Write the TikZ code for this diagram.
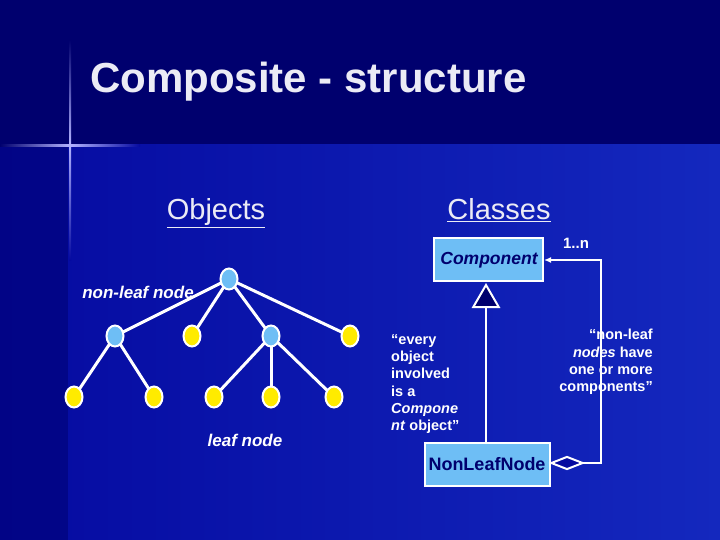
\documentclass[tikz,border=0pt]{standalone}
\usepackage{fontspec}
\setmainfont{Liberation Sans}
\usetikzlibrary{arrows.meta,shapes.geometric,backgrounds}
\pgfdeclarelayer{bglines}
\pgfsetlayers{background,bglines,main}
\definecolor{navy}{RGB}{0,0,110}
\definecolor{bgblue}{RGB}{5,10,160}
\definecolor{bgright}{RGB}{20,40,190}
\definecolor{boxblue}{RGB}{110,190,245}
\definecolor{nodeblue}{RGB}{110,190,245}
\definecolor{nodeyellow}{RGB}{255,235,0}
\definecolor{titlecol}{RGB}{235,235,245}
\tikzset{
  obj/.style={ellipse,draw=white,line width=2pt,minimum width=17pt,minimum height=21pt,inner sep=0pt},
  nl/.style={obj,fill=nodeblue},
  lf/.style={obj,fill=nodeyellow},
  edge/.style={white,line width=3pt},
  cls/.style={draw=white,line width=2pt,fill=boxblue,inner sep=0pt},
  lbl/.style={text=white},
}
\begin{document}
\begin{tikzpicture}[x=1pt,y=-1pt]
\useasboundingbox (0,0) rectangle (720,540);
\begin{pgfonlayer}{background}
\fill[navy] (0,0) rectangle (720,145);
\shade[left color=bgblue,right color=bgright] (0,145) rectangle (720,540);
\fill[navy,opacity=0.5] (0,145) rectangle (68,540);
\shade[left color=navy,right color=white!70!blue] (0,145) rectangle (70,147);
\shade[left color=white!70!blue,right color=bgblue] (70,145) rectangle (140,147);
\shade[top color=navy,bottom color=white!70!blue] (69,40) rectangle (71,145);
\shade[top color=white!70!blue,bottom color=bgblue] (69,145) rectangle (71,260);
\end{pgfonlayer}
\node[text=titlecol,font=\bfseries\fontsize{42}{46}\selectfont,anchor=west,inner sep=0pt] (title) at (90,82) {Composite - structure};
\node[text=titlecol,font=\fontsize{29}{32}\selectfont,anchor=base] (objh) at (216,220) {\underline{Objects}};
\node[text=titlecol,font=\fontsize{29}{32}\selectfont,anchor=base] (clsh) at (499,220) {\underline{Classes}};
% tree
\node[nl] (r) at (229,279) {};
\node[nl] (a) at (115,336) {};
\node[lf] (b) at (192,336) {};
\node[nl] (c) at (271,336) {};
\node[lf] (d) at (350,336) {};
\node[lf] (a1) at (74,397) {};
\node[lf] (a2) at (154,397) {};
\node[lf] (c1) at (214,397) {};
\node[lf] (c2) at (271,397) {};
\node[lf] (c3) at (334,397) {};
\begin{pgfonlayer}{bglines}
\foreach \p/\q in {r/a,r/b,r/c,r/d,a/a1,a/a2,c/c1,c/c2,c/c3}
  \draw[edge] (\p.center) -- (\q.center);
\end{pgfonlayer}
\node[lbl,font=\bfseries\itshape\fontsize{17}{20}\selectfont] (nll) at (138,292) {non-leaf node};
\node[lbl,font=\bfseries\itshape\fontsize{17}{20}\selectfont] (lfl) at (245,440) {leaf node};
% classes
\node[cls,minimum width=109pt,minimum height=43pt] (comp) at (488.5,259.5) {};
\node[text=navy,font=\bfseries\itshape\fontsize{17.5}{20}\selectfont] (compt) at (489,260) {Component};
\node[cls,minimum width=125pt,minimum height=43pt] (nln) at (487.5,464.5) {};
\node[text=navy,font=\bfseries\fontsize{18}{20}\selectfont] (nlnt) at (487,464) {NonLeafNode};
\node[isosceles triangle,isosceles triangle apex angle=60,shape border rotate=90,draw=white,line width=2pt,fill=navy,minimum height=22pt,inner sep=0pt,anchor=apex] (tri) at (486,283) {};
\draw[white,line width=2pt] (nln.north -| tri.south) -- (tri.south);
\coordinate (c1r) at (601,463);
\coordinate (c2r) at (601,260);
\draw[white,line width=2pt,-{Latex[length=7pt,width=6pt]}] (551,463) -- (c1r) -- (c2r) -- (comp.east |- c2r);
\node[diamond,draw=white,line width=2pt,fill=bgblue,minimum width=32pt,minimum height=13pt,inner sep=0pt,anchor=west] (dia) at (550,463) {};
\node[lbl,font=\bfseries\fontsize{15}{18}\selectfont] (mult) at (576,243) {1..n};
\node[lbl,align=left,anchor=north west,inner sep=0pt,font=\bfseries\fontsize{14.5}{17.3}\selectfont] (ev) at (391,334) {“every\\object\\involved\\is a\\\textit{Compone}\\\textit{nt} object”};
\node[lbl,align=right,anchor=north east,inner sep=0pt,font=\bfseries\fontsize{14.5}{17.3}\selectfont] (nlq) at (653,329) {“non-leaf\\\textit{nodes} have\\one or more\\components”};
\end{tikzpicture}
\end{document}
